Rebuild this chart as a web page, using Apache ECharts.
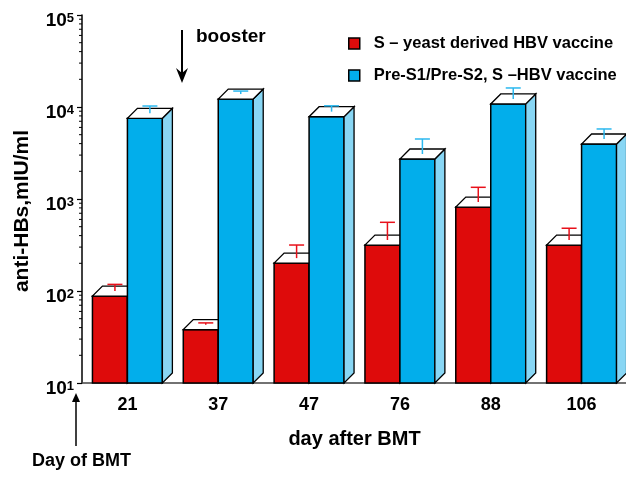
<!DOCTYPE html>
<html><head><meta charset="utf-8">
<script src="https://cdn.jsdelivr.net/npm/echarts@6/dist/echarts.min.js"></script>
<style>html,body{margin:0;padding:0;background:#fff}#c{width:626px;height:495px}</style>
</head><body><div id="c"></div>
<script>
const categories = ['21', '37', '47', '76', '88', '106'];
const seriesNames = ['S – yeast derived HBV vaccine', 'Pre-S1/Pre-S2, S –HBV vaccine'];
const yeastValues = [88, 38, 201, 316, 818, 316];
const yeastErrors = [118, 45, 316, 558, 1340, 481];
const preSValues = [7540, 12200, 7850, 2720, 10800, 3960];
const preSErrors = [10250, 14900, 10300, 4490, 16100, 5770];
const minorMultipliers = [2, 3, 4, 5, 6, 7, 8, 9];
const decades = [10, 100, 1000, 10000];

const FONT = '"Liberation Sans", Arial, sans-serif';
const RED = '#de0b0b', BLUE = '#02aeeb', SIDE = '#88d6f4';

function makeRender(side, frontColor, sideColor, errColor) {
  return function (params, api) {
    const i = api.value(0), v = api.value(1), e = api.value(2);
    const band = api.size([1, 0])[0];
    const w = band * 0.385;
    const d = 10;
    const top = api.coord([i, v]);
    const base = api.coord([i, 10]);
    const err = api.coord([i, e]);
    const x0 = side === 'left' ? top[0] - w : top[0];
    const yT = top[1], yB = base[1];
    const ex = x0 + w / 2 + d / 2;
    return {
      type: 'group', children: [
        { type: 'rect', shape: { x: x0, y: yT, width: w, height: yB - yT }, style: { fill: frontColor, stroke: '#000', lineWidth: 1.5 } },
        { type: 'polygon', shape: { points: [[x0 + w, yT], [x0 + w + d, yT - d], [x0 + w + d, yB - d], [x0 + w, yB]] }, style: { fill: sideColor, stroke: '#000', lineWidth: 1.3 } },
        { type: 'polygon', shape: { points: [[x0, yT], [x0 + w, yT], [x0 + w + d, yT - d], [x0 + d, yT - d]] }, style: { fill: '#fff', stroke: '#000', lineWidth: 1.3 } },
        { type: 'line', shape: { x1: ex, y1: yT - d / 2, x2: ex, y2: err[1] }, style: { stroke: errColor, lineWidth: 1.5 } },
        { type: 'line', shape: { x1: ex - 7.5, y1: err[1], x2: ex + 7.5, y2: err[1] }, style: { stroke: errColor, lineWidth: 1.5 } }
      ]
    };
  };
}

const minorData = [];
decades.forEach(dv => minorMultipliers.forEach(m => minorData.push([0, dv * m])));

const chart = echarts.init(document.getElementById('c'), null, { renderer: 'canvas' });
chart.setOption({
  animation: false,
  backgroundColor: '#fff',
  textStyle: { fontFamily: FONT },
  grid: { left: 82, top: 15, width: 545, bottom: 112, containLabel: false, outerBoundsMode: 'none' },
  legend: {
    data: seriesNames,
    orient: 'vertical',
    left: 348, top: 35,
    padding: 0,
    icon: 'rect',
    itemWidth: 11, itemHeight: 11, itemGap: 15,
    itemStyle: { borderColor: '#000', borderWidth: 1.5 },
    textStyle: { fontFamily: FONT, fontSize: 16.5, fontWeight: 'bold', color: '#000', lineHeight: 16, padding: [0, 0, 0, 9] }
  },
  xAxis: {
    type: 'category',
    data: categories,
    boundaryGap: true,
    name: 'day after BMT',
    nameLocation: 'middle',
    nameGap: 46,
    nameMoveOverlap: false,
    nameTextStyle: { fontFamily: FONT, fontSize: 20, fontWeight: 'bold', color: '#000' },
    axisLine: { lineStyle: { color: '#444', width: 1.5 } },
    axisTick: { alignWithLabel: true, length: 4, lineStyle: { color: '#444', width: 1.5 } },
    axisLabel: { margin: 13, fontFamily: FONT, fontSize: 18, fontWeight: 'bold', color: '#000' }
  },
  yAxis: {
    type: 'log',
    logBase: 10,
    min: 10, max: 100000,
    name: 'anti-HBs,mIU/ml',
    nameLocation: 'middle',
    nameGap: 49,
    nameMoveOverlap: false,
    nameRotate: 90,
    nameTextStyle: { fontFamily: FONT, fontSize: 21, fontWeight: 'bold', color: '#000', padding: [0, 24, 0, 0] },
    splitLine: { show: false },
    axisLine: { show: true, lineStyle: { color: '#000', width: 1.5 } },
    axisTick: { show: true, inside: false, length: 5, lineStyle: { color: '#000', width: 1.2 } },
    axisLabel: {
      margin: 8,
      padding: [12, 0, 0, 0],
      formatter: function (v) { return '{b|10}{s|' + Math.round(Math.log10(v)) + '}'; },
      rich: {
        b: { fontFamily: FONT, fontSize: 19, fontWeight: 'bold', color: '#000', lineHeight: 18, verticalAlign: 'bottom' },
        s: { fontFamily: FONT, fontSize: 13, fontWeight: 'bold', color: '#000', lineHeight: 13, verticalAlign: 'top', padding: [0, 0, 11, 0] }
      }
    }
  },
  graphic: [
    { type: 'text', left: 196, top: 27, style: { text: 'booster', fontFamily: FONT, fontSize: 19, fontWeight: 'bold', fill: '#000' } },
    { type: 'line', shape: { x1: 182, y1: 30, x2: 182, y2: 74 }, style: { stroke: '#000', lineWidth: 2 } },
    { type: 'polygon', shape: { points: [[176, 68], [182, 73], [188, 68], [182, 83]] }, style: { fill: '#000' } },
    { type: 'line', shape: { x1: 76, y1: 400, x2: 76, y2: 446 }, style: { stroke: '#000', lineWidth: 1.5 } },
    { type: 'polygon', shape: { points: [[72, 402], [80, 402], [76, 393]] }, style: { fill: '#000' } },
    { type: 'text', left: 32, top: 452, style: { text: 'Day of BMT', fontFamily: FONT, fontSize: 18, fontWeight: 'bold', fill: '#000' } }
  ],
  series: [
    {
      type: 'custom', name: 'minor', silent: true,
      renderItem: function (params, api) {
        const p = api.coord([0, api.value(1)]);
        const x = params.coordSys.x;
        return { type: 'line', shape: { x1: x - 3, y1: p[1], x2: x, y2: p[1] }, style: { stroke: '#000', lineWidth: 1 } };
      },
      encode: { x: 0, y: 1 },
      data: minorData
    },
    {
      type: 'custom', name: seriesNames[0],
      itemStyle: { color: RED },
      renderItem: makeRender('left', RED, '#a00000', '#e8101a'),
      encode: { x: 0, y: 1 },
      data: yeastValues.map((v, k) => [k, v, yeastErrors[k]])
    },
    {
      type: 'custom', name: seriesNames[1],
      itemStyle: { color: BLUE },
      renderItem: makeRender('right', BLUE, SIDE, '#2bb8ef'),
      encode: { x: 0, y: 1 },
      data: preSValues.map((v, k) => [k, v, preSErrors[k]])
    }
  ]
});
</script>
</body></html>
